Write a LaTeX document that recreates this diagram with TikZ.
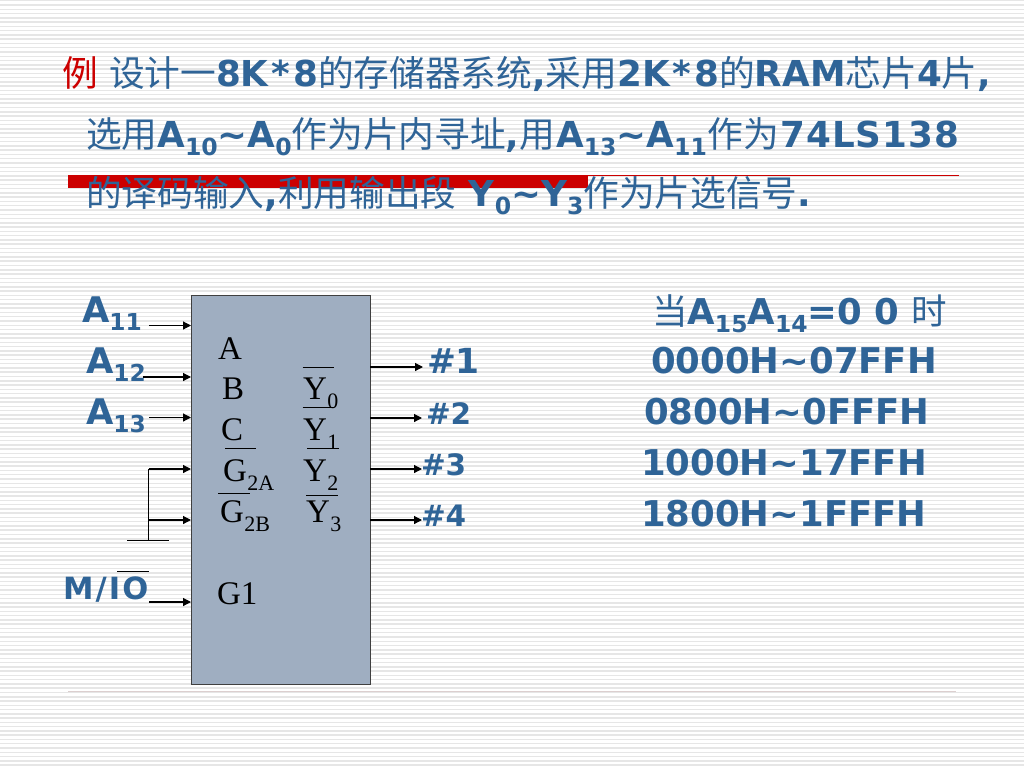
\documentclass[tikz,border=0pt]{standalone}
\usepackage{fontspec}
\setmainfont{DejaVu Sans}
\newfontfamily\cjk{Noto Sans CJK SC}
\newfontfamily\tms{Liberation Serif}
\newfontfamily\spaced[LetterSpace=7]{DejaVu Sans Bold}
\usetikzlibrary{arrows.meta}
\definecolor{txtblue}{HTML}{2F6497}
\definecolor{barred}{HTML}{CC0000}
\definecolor{stripe}{HTML}{E6E6E6}
\definecolor{chipfill}{HTML}{9FAEC1}
\definecolor{lowrule}{HTML}{DCCFCF}
\newcommand{\cj}[1]{{\cjk\mdseries #1}}
\newcommand{\st}{\kern3pt*\kern3pt}
\newcommand{\lowsub}[1]{\raisebox{-0.24em}{\fontsize{0.66em}{1em}\selectfont #1}}
\newcommand{\tsub}[1]{\kern0.5pt\raisebox{-0.28em}{\fontsize{22}{22}\selectfont #1}}
\tikzset{
  x=1pt,y=-1pt,
  body/.style={anchor=base west,inner sep=0,outer sep=0,text=txtblue,font=\fontsize{35.7}{36}\selectfont\bfseries},
  lab/.style={anchor=base west,inner sep=0,outer sep=0,text=txtblue,font=\fontsize{35.3}{36}\selectfont\bfseries},
  addr/.style={anchor=base west,inner sep=0,outer sep=0,text=txtblue,font=\fontsize{35.5}{36}\selectfont\bfseries},
  pin/.style={anchor=base west,inner sep=0,outer sep=0,text=black,font=\fontsize{33}{33}\selectfont\tms},
  wire/.style={draw=black,line width=1.2pt},
  arr/.style={wire,-{Triangle[length=8pt,width=8pt]}},
  bar/.style={draw=black,line width=0.9pt}
}
\begin{document}
\begin{tikzpicture}
\useasboundingbox (0,0) rectangle (1024,768);
\fill[white] (0,0) rectangle (1024,768);
\foreach \i in {0,...,180} {
  \fill[stripe] (0,{0.0+\i*4.27}) rectangle (1024,{1.5+\i*4.27});
}
% rules
\fill[barred] (68,175) rectangle (588,188);
\fill[barred] (588,175) rectangle (959,176);
\draw[draw=lowrule,line width=1pt] (68,691) -- (956,691);
% heading
\node[body,text=barred] (t0) at (62,86) {\cj{例}};
\node[body] (t1) at (109,86) {\cj{设计一}8K\st 8\cj{的存储器系统},\cj{采用}2K\st 8\cj{的}RAM\cj{芯片}4\cj{片},};
\node[body] (t2) at (86,147) {\cj{选用}A\lowsub{10}\textasciitilde A\lowsub{0}\cj{作为片内寻址},\cj{用}\kern1pt A\lowsub{13}\textasciitilde A\lowsub{11}\kern1pt\cj{作为}\kern1pt 7\kern1pt 4\kern1pt L\kern1pt S\kern1pt 1\kern1pt 3\kern1pt 8};
\node[body] (t3) at (86,206) {\cj{的译码输入},\cj{利用输出段} Y\lowsub{0}\textasciitilde Y\lowsub{3}\cj{作为片选信号}.};
% chip
\node[draw=black!75,line width=1pt,fill=chipfill,minimum width=179pt,minimum height=389pt,inner sep=0,outer sep=0] (chip) at (280.5,489.5) {};
% pins
\node[pin] (pA) at (218,359) {A};
\node[pin] (pB) at (222,399) {B};
\node[pin] (pC) at (221,440) {C};
\node[pin] (pG2A) at (223,481) {G\tsub{2A}};
\node[pin] (pG2B) at (220,522) {G\tsub{2B}};
\node[pin] (pG1) at (217,604) {G1};
\node[pin] (pY0) at (303,399) {Y\tsub{0}};
\node[pin] (pY1) at (303,440) {Y\tsub{1}};
\node[pin] (pY2) at (303,481) {Y\tsub{2}};
\node[pin] (pY3) at (306,522) {Y\tsub{3}};
% overbars
\draw[bar] (302.5,367.5) -- (334,367.5);
\draw[bar] (302.5,407.5) -- (334,407.5);
\draw[bar] (307,448.5) -- (339,448.5);
\draw[bar] (306,495.5) -- (338,495.5);
\draw[bar] (225,448.5) -- (256,448.5);
\draw[bar] (218,493.5) -- (250,493.5);
% input labels
\node[lab] (a11) at (82,322) {A\lowsub{11}};
\node[lab] (a12) at (86,373) {A\lowsub{12}};
\node[lab] (a13) at (86,424) {A\lowsub{13}};
\node[lab,font=\fontsize{30.6}{31}\selectfont\spaced] (mio) at (63,599) {M/IO};
\draw[bar] (117,571) -- (149,571);
% wire ends
\coordinate (s11) at (149,325.5);
\coordinate (s12) at (143,377);
\coordinate (s13) at (149,417.5);
\coordinate (s2a) at (148.5,469);
\coordinate (s2b) at (148.5,520);
\coordinate (sio) at (149,602);
\coordinate (gnd) at (148.5,540.5);
\coordinate (gndl) at (127,540.5);
\coordinate (gndr) at (169,540.5);
\draw[arr] (s11) -- (s11 -| chip.west);
\draw[arr] (s12) -- (s12 -| chip.west);
\draw[arr] (s13) -- (s13 -| chip.west);
\draw[arr] (s2a) -- (s2a -| chip.west);
\draw[arr] (s2b) -- (s2b -| chip.west);
\draw[arr] (sio) -- (sio -| chip.west);
\draw[wire] (s2a) -- (gnd);
\draw[bar] (gndl) -- (gndr);
% outputs
\node[lab,font=\fontsize{34.5}{35}\selectfont\bfseries] (o1) at (427,373) {\#1};
\node[lab,font=\fontsize{29.5}{30}\selectfont\bfseries] (o2) at (426,424) {\#2};
\node[lab,font=\fontsize{29.5}{30}\selectfont\bfseries] (o3) at (421,475) {\#3};
\node[lab,font=\fontsize{29.5}{30}\selectfont\bfseries] (o4) at (421,526) {\#4};
\coordinate (e1) at (423,367);
\coordinate (e2) at (422,418);
\coordinate (e3) at (422,469);
\coordinate (e4) at (422,520);
\draw[arr] (e1 -| chip.east) -- (e1);
\draw[arr] (e2 -| chip.east) -- (e2);
\draw[arr] (e3 -| chip.east) -- (e3);
\draw[arr] (e4 -| chip.east) -- (e4);
% right column
\node[addr] (r0) at (652,324) {\cj{当}A\lowsub{15}A\lowsub{14}=0 0 \cj{时}};
\node[addr] (r1) at (651,373) {0000H\textasciitilde 07FFH};
\node[addr] (r2) at (644,424) {0800H\textasciitilde 0FFFH};
\node[addr] (r3) at (641,475) {1000H\textasciitilde 17FFH};
\node[addr] (r4) at (641,526) {1800H\textasciitilde 1FFFH};
\end{tikzpicture}
\end{document}
